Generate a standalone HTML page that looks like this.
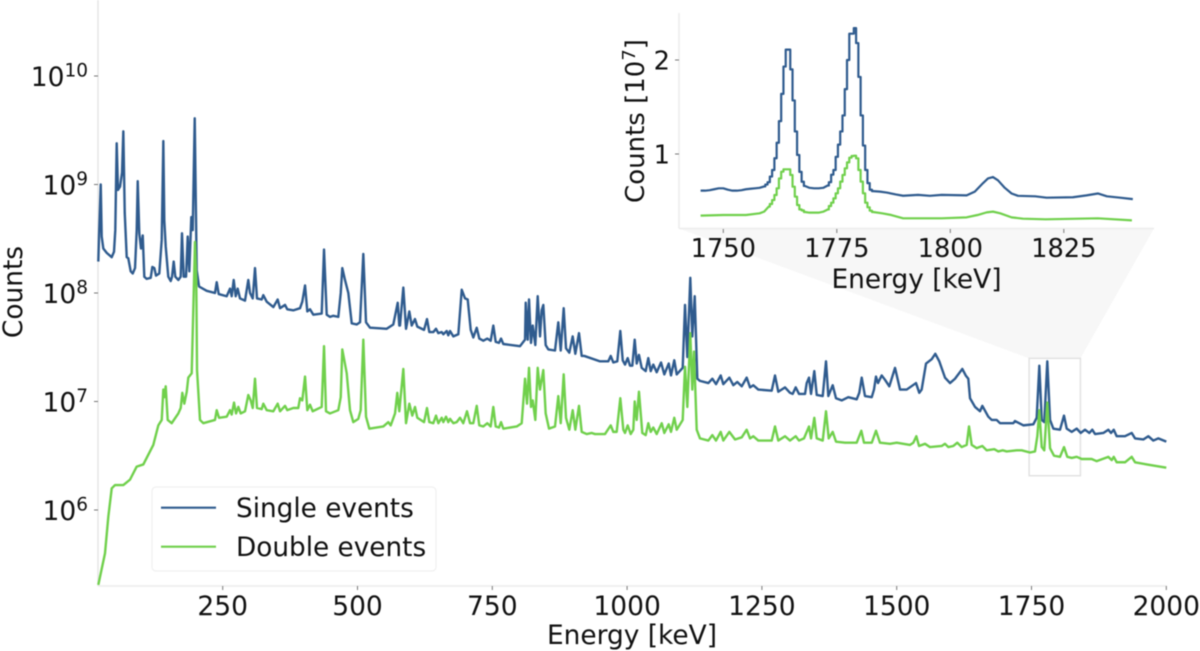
<!DOCTYPE html>
<html lang="en">
<head>
<meta charset="utf-8">
<title>Energy spectrum of single and double events</title>
<style>
html,body{margin:0;padding:0;background:#fff;width:1200px;height:651px;overflow:hidden}
svg{display:block;font-family:"DejaVu Sans","Liberation Sans",sans-serif;filter:blur(.45px)}
text{fill:#111}
</style>
</head>
<body>
<svg id="figure" width="1200" height="651" viewBox="0 0 1200 651">
  <polygon id="zoom-wedge" fill="#f7f7f7"/>
  <rect id="zoom-box" fill="none" stroke="#e2e2e2" stroke-width="1.5"/>
  <g id="main-axes">
    <line x1="98" y1="0" x2="98" y2="586" stroke="#e6e6e6" stroke-width="1.5"/>
    <line x1="98" y1="586" x2="1167" y2="586" stroke="#ececec" stroke-width="1.5"/>
  </g>
  <path id="single-line" fill="none" stroke="#2f5b8e" stroke-width="2.4" stroke-linejoin="round"/>
  <path id="double-line" fill="none" stroke="#70d04c" stroke-width="2.4" stroke-linejoin="round"/>
  <text x="632" y="644" text-anchor="middle" font-size="26.4">Energy [keV]</text>
  <text transform="translate(22,292) rotate(-90)" text-anchor="middle" font-size="26.4">Counts</text>

  <g>
    <rect x="152" y="487" width="284" height="84" rx="4" fill="#fff" stroke="#f0f0f0" stroke-width="1.2"/>
    <line x1="161" y1="507.7" x2="216" y2="507.7" stroke="#2f5b8e" stroke-width="2.2"/>
    <text x="236" y="517" font-size="26.3">Single events</text>
    <line x1="161" y1="546.7" x2="216" y2="546.7" stroke="#70d04c" stroke-width="2.2"/>
    <text x="236" y="556" font-size="26.3">Double events</text>
  </g>

  <g id="inset-axes">
    <line x1="679" y1="13" x2="679" y2="228.5" stroke="#ececec" stroke-width="1.5"/>
    <line x1="679" y1="228.5" x2="1154" y2="228.5" stroke="#ececec" stroke-width="1.5"/>
  </g>
  <path id="inset-single-line" fill="none" stroke="#2f5b8e" stroke-width="2.2" stroke-linejoin="round"/>
  <path id="inset-double-line" fill="none" stroke="#70d04c" stroke-width="2.2" stroke-linejoin="round"/>
  <text x="916.5" y="288" text-anchor="middle" font-size="26.4">Energy [keV]</text>
  <text transform="translate(644,121) rotate(-90)" text-anchor="middle" font-size="26">Counts [10<tspan dy="-9" font-size="18">7</tspan><tspan dy="9">]</tspan></text>
</svg>
<script>
// ---------- main chart data (energy in keV, log10 of counts) ----------
const singleEnergy = [19.3,20.6,23.8,25.6,28.6,34.9,44.2,48.4,50.8,53.4,55.8,59.6,63.3,65.7,68.3,72,74.9,79.4,83.1,87.4,90.5,92.4,95.3,98.5,101.7,104.6,109,116.5,119.5,123.2,126.3,132.4,136.9,139.9,141.7,144.3,149.1,153.6,156,159.1,162.1,167.7,172.1,174.5,177.7,182,185.1,188.1,191.8,194.4,198.1,201.8,206.1,220.3,235.7,238.9,242.6,257.4,263.6,266.7,270.4,274.1,277.8,282.1,291.4,297.5,300.7,305.7,309.9,313.6,322.3,325.3,331.6,343.9,352,356.3,365.6,369.8,380.9,393.4,397.6,402.7,406.9,411.9,418.1,433.6,437.9,442.9,449,455.1,464.4,468.9,471.8,476.8,483,489.3,498.5,504.7,510.8,515.8,523.2,554.2,566.4,574.6,577.5,578.8,585,590,596.1,600.5,606.6,610.9,623.4,628.9,633.2,640.6,645.6,649.9,656.2,659.2,665.4,668.4,671.6,677.7,687,693.3,699.4,704.4,710,714.8,721.1,725.9,733.3,740.8,747,751.9,756.3,762.4,766.2,770.4,801.4,810.7,812,815.7,818.1,821.8,825,829.8,834.2,838.5,841.6,844.6,849,853.9,866.3,872.4,876.9,882.4,886.7,892.8,899.1,904,910.8,915.8,920.6,949.8,965.1,969.6,974.4,981.8,987.4,991.9,996.1,1001.1,1005.4,1009.7,1014.1,1017.8,1022,1027.1,1034.5,1039.3,1043.8,1048.6,1054.9,1062.9,1069,1077.2,1081.4,1087.5,1092,1103.1,1107.4,1111.7,1117.2,1120.9,1125.4,1130.2,1135.2,1150.7,1158.1,1164.9,1173.6,1178.4,1189.6,1197,1204.4,1212.6,1221.8,1228,1234.1,1243.3,1268.2,1274.3,1280.4,1292.9,1302.1,1307.1,1312.7,1318.8,1330,1333.1,1337.4,1341.1,1347.2,1351.7,1362.8,1368.9,1373.2,1381.3,1387.4,1398,1410.2,1425.8,1430.6,1435.1,1441.2,1453.7,1457.9,1461.6,1465.3,1472.2,1478.3,1486.3,1496.9,1506.2,1518.6,1535.8,1541.9,1546.3,1554.4,1564.9,1571.6,1579,1589.6,1598.9,1608.1,1621.7,1628,1632.8,1636,1645.3,1654.5,1658.8,1669.9,1676.2,1685.4,1691.6,1716.3,1719.4,1734.8,1753.4,1759.6,1764.5,1769,1773.7,1779.3,1784.4,1790.5,1802.9,1810.3,1815.3,1824.6,1833.8,1841.3,1849.2,1857.2,1862.8,1867.8,1883.2,1892.5,1897.5,1902.5,1908,1923.4,1935.9,1942,1957.4,1966.6,1975.9,1985.2,2000];
const singleLogCounts = [8.29,8.52,9.00,8.52,8.41,8.37,8.33,8.38,8.58,9.38,8.95,8.98,9.11,9.49,8.74,8.33,8.32,8.20,8.18,8.23,8.58,9.03,8.55,8.41,8.53,8.15,8.13,8.14,8.24,8.23,8.16,8.18,8.49,9.40,8.67,8.43,8.15,8.11,8.15,8.29,8.15,8.12,8.15,8.55,8.15,8.15,8.52,8.20,8.70,8.58,9.61,8.21,8.06,8.02,8.00,8.10,7.99,7.97,8.04,7.97,8.12,7.97,8.04,7.95,7.93,8.12,8.00,7.95,8.23,7.95,7.94,7.98,7.92,7.87,7.94,7.86,7.89,7.85,7.84,7.86,7.92,8.07,7.83,7.85,7.80,7.81,8.40,7.80,7.78,7.79,7.78,8.00,8.23,8.12,8.00,7.72,7.71,7.73,8.36,7.73,7.68,7.67,7.71,7.91,7.70,7.70,8.05,7.67,7.83,7.70,7.76,7.69,7.66,7.76,7.64,7.64,7.67,7.63,7.64,7.62,7.65,7.61,7.65,7.60,7.62,8.03,7.95,7.94,7.66,7.59,7.68,7.58,7.56,7.58,7.56,7.70,7.55,7.54,7.58,7.53,7.51,7.57,7.91,7.57,7.94,7.54,7.70,7.52,7.97,7.60,7.84,7.89,7.52,7.48,7.47,7.73,7.47,7.86,7.49,7.45,7.60,7.44,7.63,7.42,7.42,7.37,7.37,7.42,7.36,7.37,7.65,7.38,7.34,7.40,7.33,7.33,7.57,7.35,7.43,7.31,7.28,7.40,7.28,7.34,7.27,7.36,7.25,7.35,7.24,7.38,7.25,7.31,7.89,7.41,8.14,7.60,7.97,7.21,7.19,7.17,7.21,7.16,7.24,7.16,7.22,7.15,7.18,7.14,7.22,7.13,7.15,7.11,7.10,7.24,7.09,7.13,7.08,7.07,7.13,7.07,7.07,7.17,7.22,7.07,7.28,7.06,7.05,7.37,7.05,7.15,7.03,7.01,7.04,7.02,7.08,7.22,7.05,7.04,7.11,7.23,7.17,7.24,7.20,7.14,7.31,7.11,7.11,7.17,7.08,7.11,7.35,7.39,7.44,7.37,7.22,7.17,7.21,7.30,7.24,7.21,7.03,6.95,6.91,6.96,6.86,6.83,6.83,6.80,6.80,6.82,6.78,6.79,6.85,7.33,6.83,6.81,7.37,6.83,6.75,6.74,6.87,6.75,6.72,6.75,6.71,6.74,6.71,6.74,6.70,6.71,6.74,6.71,6.74,6.68,6.68,6.71,6.66,6.65,6.68,6.64,6.66,6.63];
const doubleEnergy = [19.3,31.7,37.9,44.2,50.3,65.7,78.1,90.5,102.8,121.3,130.6,136.9,139.9,141.7,144.3,148,155.4,167.7,172.1,175.1,178.8,183.3,186.2,192.5,198.6,201,202.4,207.9,214,235.7,238.9,243.2,257.4,263.6,266.7,271,274.7,279,283.4,291.4,297.5,301.9,305.7,309.9,313.6,322.3,325.3,331.6,343.9,352,356.3,365.6,369.8,380.9,390.2,393.4,397.6,402.7,406.9,411.9,416.9,433.6,437.9,441.6,449,464.4,468.9,471.8,480,486.1,492.2,501.5,505.9,510.8,515.8,521.9,547.9,557.1,561.6,569.6,573.8,577.5,585,590,596.1,601.6,606.6,610.9,623.4,628.9,633.2,640.6,645.6,649.9,656.2,659.2,664.2,668.4,671.6,677.7,684,690.1,696.2,703.1,708.7,714.8,721.1,725.9,733.3,740.8,747,751.9,756.3,762.4,766.2,770.4,795.3,804.5,810.7,814.4,818.1,821.8,825,829.8,834.2,838.5,844.6,849,855.2,866.3,872.4,876.9,882.4,886.7,892.8,899.1,904,910.8,915.8,925.1,934.4,940.5,959,969.6,974.4,980.7,987.4,993,996.1,1001.1,1006.7,1011.5,1014.1,1017.8,1022,1028.2,1034.5,1039.3,1043.8,1048.6,1054.9,1064.2,1069,1077.2,1081.4,1087.5,1092,1103.1,1107.4,1111.7,1117.2,1120.9,1124.1,1129.1,1135.2,1150.7,1158.1,1164.9,1173.6,1178.4,1189.6,1200.2,1212.6,1221.8,1228,1234.1,1243.3,1268.2,1274.3,1280.4,1292.9,1302.1,1312.7,1318.8,1328.1,1337.4,1341.1,1347.2,1351.7,1362.8,1368.9,1373.9,1381.3,1387.4,1404.2,1425.8,1434.4,1439.4,1453.7,1461.6,1469,1487.6,1500,1524.7,1530.8,1536.4,1541.4,1552.5,1561.8,1583.5,1589.6,1595.7,1605,1612.4,1620.5,1629.8,1634.1,1639.1,1648.3,1658.8,1666.9,1681,1688.4,1696.6,1704,1722.5,1731.8,1747.2,1756.5,1760.8,1764.5,1769,1773.7,1779.3,1784.4,1791.8,1802.9,1810.3,1816.4,1824.6,1833.8,1843.1,1861.6,1870.9,1892.5,1898.8,1902.5,1908,1923.4,1935.9,1942,1963.7,2000];
const doubleLogCounts = [5.31,5.60,5.94,6.20,6.23,6.23,6.28,6.40,6.42,6.60,6.78,6.83,7.11,7.04,7.14,6.83,6.80,6.89,6.94,7.08,6.98,7.09,7.22,7.26,8.47,8.12,7.29,6.83,6.80,6.83,6.92,6.85,6.86,6.92,6.88,6.99,6.89,6.95,6.89,6.91,7.06,7.01,6.94,7.21,6.94,6.93,6.98,6.92,6.91,6.98,6.91,6.96,6.92,6.94,6.94,7.03,7.01,7.23,6.92,6.97,6.91,6.95,7.51,6.91,6.89,6.92,7.04,7.48,7.26,6.92,6.81,6.84,6.92,7.57,6.86,6.75,6.77,6.81,6.78,6.89,7.08,6.91,7.30,6.80,6.98,6.87,6.95,6.85,6.81,6.94,6.81,6.80,6.87,6.80,6.85,6.81,6.86,6.81,6.84,6.80,6.81,6.85,6.80,6.91,6.80,6.80,6.96,6.78,6.77,6.80,6.77,6.95,6.77,6.76,6.81,6.75,6.77,6.80,7.21,6.98,7.31,6.95,7.01,6.83,7.31,7.11,7.29,6.89,6.75,6.77,7.05,6.80,7.25,6.85,6.74,6.92,6.74,6.96,6.72,6.70,6.71,6.70,6.70,6.78,6.72,6.72,7.03,6.74,6.71,6.78,6.70,6.74,7.00,6.83,7.09,6.71,6.69,6.80,6.72,6.76,6.70,6.80,6.71,6.79,6.72,6.85,6.74,6.83,7.32,6.95,7.63,7.11,7.46,6.74,6.66,6.64,6.69,6.64,6.72,6.64,6.72,6.65,6.67,6.74,6.66,6.68,6.64,6.64,6.77,6.64,6.68,6.64,6.68,6.64,6.66,6.77,6.66,6.85,6.66,6.64,6.91,6.66,6.72,6.63,6.62,6.62,6.73,6.62,6.62,6.73,6.62,6.61,6.62,6.60,6.62,6.68,6.59,6.61,6.58,6.59,6.61,6.58,6.59,6.62,6.58,6.60,6.77,6.60,6.57,6.59,6.55,6.56,6.54,6.55,6.54,6.55,6.55,6.53,6.54,6.68,6.92,6.58,6.55,6.99,6.57,6.50,6.49,6.58,6.49,6.48,6.49,6.47,6.47,6.45,6.49,6.46,6.49,6.44,6.44,6.49,6.44,6.42,6.39];
const mainXTicks = [250,500,750,1000,1250,1500,1750,2000];
const mainYTickExponents = [6,7,8,9,10];

// ---------- inset data (energy in keV, counts in units of 10^7) ----------
const insetSingleEnergy = [1745,1746,1747,1748,1749,1750,1751,1752,1753,1754,1755,1756,1757,1758,1759,1759.5,1760,1760.5,1761,1761.5,1762,1762.5,1763,1763.5,1764,1764.5,1765,1765.5,1766,1766.5,1767,1767.5,1768,1769,1770,1771,1772,1773,1773.5,1774,1774.5,1775,1775.5,1776,1776.5,1777,1777.5,1778,1778.5,1779,1779.5,1780,1780.5,1781,1781.5,1782,1782.5,1783,1784.5,1786,1788,1789.6,1792.9,1795.5,1798.1,1803.6,1805.4,1807.2,1808.3,1809.4,1810.5,1812,1813.5,1814.9,1818.7,1821.2,1827,1830,1832.5,1834.5,1837.4,1840.2];
const insetSingleCounts = [0.61,0.61,0.615,0.625,0.635,0.635,0.62,0.61,0.61,0.615,0.625,0.63,0.635,0.64,0.655,0.675,0.70,0.76,0.83,0.955,1.12,1.35,1.64,1.93,2.11,2.11,1.9,1.57,1.24,0.99,0.81,0.705,0.66,0.64,0.635,0.635,0.64,0.665,0.70,0.78,0.83,0.97,1.1,1.24,1.41,1.69,2.0,2.28,2.28,2.34,2.18,1.82,1.41,1.09,0.83,0.69,0.62,0.605,0.60,0.59,0.57,0.556,0.565,0.555,0.565,0.56,0.60,0.69,0.74,0.755,0.72,0.64,0.58,0.555,0.55,0.535,0.54,0.56,0.58,0.55,0.535,0.52];
const insetDoubleEnergy = [1745,1750,1755,1758,1759,1760,1760.5,1761,1761.5,1762,1762.5,1763,1763.5,1764,1764.5,1765,1765.5,1766,1766.5,1767,1767.5,1768,1769,1771,1772,1773,1773.5,1774,1774.5,1775,1775.5,1776,1776.5,1777,1777.5,1778,1778.5,1779,1779.5,1780,1780.5,1781,1781.5,1782,1782.5,1783,1785,1787,1789.6,1798.1,1803.6,1806,1808,1809.4,1811,1813.5,1816,1821,1832.5,1840];
const insetDoubleCounts = [0.344,0.351,0.351,0.369,0.387,0.44,0.468,0.51,0.564,0.635,0.74,0.812,0.837,0.837,0.837,0.777,0.652,0.546,0.457,0.41,0.40,0.383,0.376,0.376,0.386,0.41,0.447,0.482,0.528,0.582,0.635,0.706,0.777,0.848,0.911,0.961,0.979,0.982,0.954,0.83,0.706,0.582,0.482,0.433,0.397,0.383,0.369,0.351,0.316,0.316,0.326,0.351,0.379,0.387,0.369,0.326,0.312,0.305,0.316,0.294];
const insetXTicks = [1750,1775,1800,1825];
const insetYTicks = [1,2];
const insetXLimits = [1740.1,1844.7];
const insetYLimits = [0.207,2.5];

// ---------- axis functions ----------
function mainX(e){ return 222.7 + (e - 250) * 0.5392; }
function mainY(logC){ return 184.5 + (9 - logC) * 108.5; }
function insetX(e){ return 723.3 + (e - 1750) * 4.54; }
function insetY(v){ return 154 - (v - 1) * 94; }

function linePath(xs, ys, fx, fy){
  let d = '';
  for (let i = 0; i < xs.length; i++) {
    d += (i ? 'L' : 'M') + fx(xs[i]).toFixed(2) + ' ' + fy(ys[i]).toFixed(2);
  }
  return d;
}
function stepPath(xs, ys){
  let d = 'M' + insetX(xs[0]).toFixed(2) + ' ' + insetY(ys[0]).toFixed(2);
  for (let i = 1; i < xs.length; i++) {
    const px = insetX(xs[i]).toFixed(2);
    const py = insetY(ys[i]).toFixed(2);
    if (xs[i] - xs[i-1] <= 0.5) {
      const mid = insetX((xs[i] + xs[i-1]) / 2).toFixed(2);
      d += 'H' + mid + 'V' + py + 'H' + px;
    } else {
      d += 'L' + px + ' ' + py;
    }
  }
  return d;
}

document.getElementById('single-line').setAttribute('d', linePath(singleEnergy, singleLogCounts, mainX, mainY));
document.getElementById('double-line').setAttribute('d', linePath(doubleEnergy, doubleLogCounts, mainX, mainY));
document.getElementById('inset-single-line').setAttribute('d', stepPath(insetSingleEnergy, insetSingleCounts));
document.getElementById('inset-double-line').setAttribute('d', stepPath(insetDoubleEnergy, insetDoubleCounts));

// zoom box and connector, from the inset limits
const zoomLeft = mainX(insetXLimits[0] + 5.5);
const zoomRight = mainX(insetXLimits[1] - 4);
const zoomTop = mainY(Math.log10(insetYLimits[1] * 1e7));
const zoomBottom = mainY(Math.log10(insetYLimits[0] * 1e7));
const zoomBox = document.getElementById('zoom-box');
zoomBox.setAttribute('x', zoomLeft);
zoomBox.setAttribute('y', zoomTop);
zoomBox.setAttribute('width', zoomRight - zoomLeft);
zoomBox.setAttribute('height', zoomBottom - zoomTop);
document.getElementById('zoom-wedge').setAttribute('points',
  '679,228.5 1154,228.5 ' + zoomRight + ',' + zoomTop + ' ' + zoomLeft + ',' + zoomTop);

const NS = 'http://www.w3.org/2000/svg';
const mainAxes = document.getElementById('main-axes');
const insetAxes = document.getElementById('inset-axes');

mainXTicks.forEach(function(v){
  const x = mainX(v);
  const t = document.createElementNS(NS, 'line');
  
  
  t.setAttribute('x1', x); t.setAttribute('x2', x);
  t.setAttribute('y1', 586); t.setAttribute('y2', 590);
  t.setAttribute('stroke', '#777'); t.setAttribute('stroke-width', '1');
  mainAxes.appendChild(t);
  const l = document.createElementNS(NS, 'text');
  
  
  l.setAttribute('x', x); l.setAttribute('y', 615);
  l.setAttribute('text-anchor', 'middle'); l.setAttribute('font-size', '26.5');
  l.textContent = String(v);
  mainAxes.appendChild(l);
});

mainYTickExponents.forEach(function(v){
  const y = mainY(v);
  const t = document.createElementNS(NS, 'line');
  
  
  t.setAttribute('x1', 94); t.setAttribute('x2', 98);
  t.setAttribute('y1', y); t.setAttribute('y2', y);
  t.setAttribute('stroke', '#777'); t.setAttribute('stroke-width', '1');
  mainAxes.appendChild(t);
  const l = document.createElementNS(NS, 'text');
  
  
  l.setAttribute('x', 88); l.setAttribute('y', y + 10);
  l.setAttribute('text-anchor', 'end'); l.setAttribute('font-size', '26.5');
  const base = document.createElementNS(NS, 'tspan');
  base.textContent = '10';
  l.appendChild(base);
  const sup = document.createElementNS(NS, 'tspan');
  sup.setAttribute('dy', '-9.5');
  sup.setAttribute('font-size', '18.5');
  sup.textContent = String(v);
  l.appendChild(sup);
  mainAxes.appendChild(l);
});

insetXTicks.forEach(function(v){
  const x = insetX(v);
  const t = document.createElementNS(NS, 'line');
  
  
  t.setAttribute('x1', x); t.setAttribute('x2', x);
  t.setAttribute('y1', 229); t.setAttribute('y2', 233);
  t.setAttribute('stroke', '#777'); t.setAttribute('stroke-width', '1');
  insetAxes.appendChild(t);
  const l = document.createElementNS(NS, 'text');
  
  
  l.setAttribute('x', x); l.setAttribute('y', 257);
  l.setAttribute('text-anchor', 'middle'); l.setAttribute('font-size', '25.7');
  l.textContent = String(v);
  insetAxes.appendChild(l);
});

insetYTicks.forEach(function(v){
  const y = insetY(v);
  const t = document.createElementNS(NS, 'line');
  
  
  t.setAttribute('x1', 675); t.setAttribute('x2', 679);
  t.setAttribute('y1', y); t.setAttribute('y2', y);
  t.setAttribute('stroke', '#777'); t.setAttribute('stroke-width', '1');
  insetAxes.appendChild(t);
  const l = document.createElementNS(NS, 'text');
  
  
  l.setAttribute('x', 670); l.setAttribute('y', y + 9.5);
  l.setAttribute('text-anchor', 'end'); l.setAttribute('font-size', '25.7');
  l.textContent = String(v);
  insetAxes.appendChild(l);
});
</script>
</body>
</html>
